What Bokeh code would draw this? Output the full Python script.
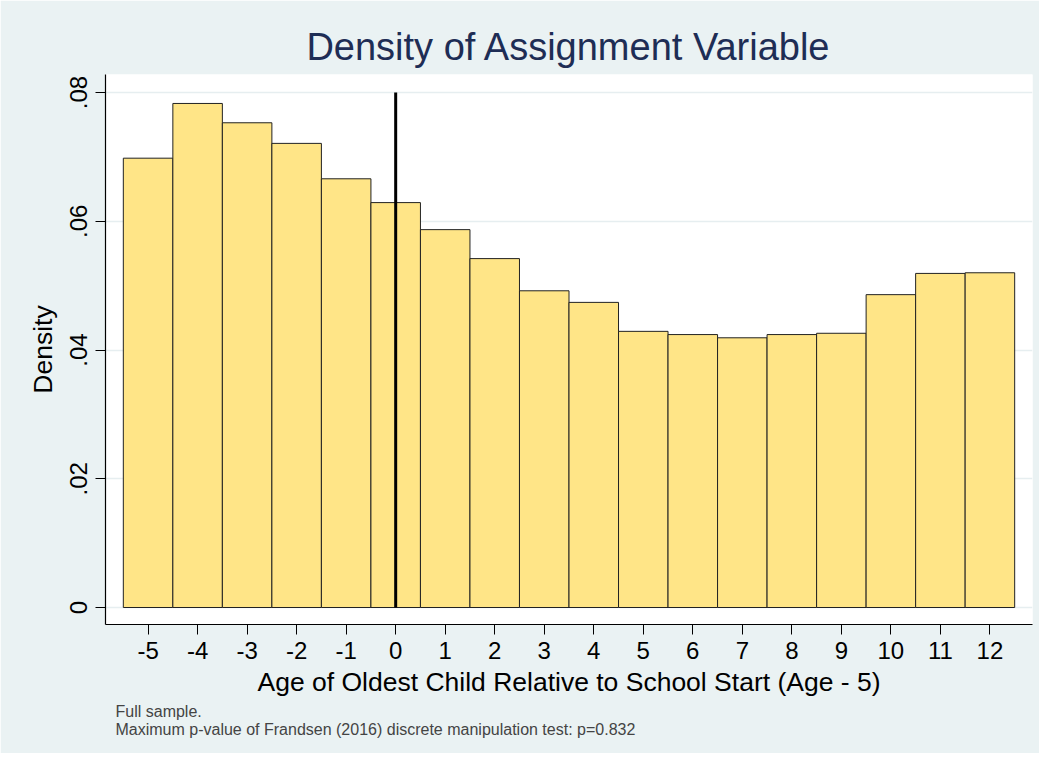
from bokeh.plotting import figure
from bokeh.models import FixedTicker, Title, Range1d
from bokeh.embed import file_html
from bokeh.resources import INLINE

ages = [-5, -4, -3, -2, -1, 0, 1, 2, 3, 4, 5, 6, 7, 8, 9, 10, 11, 12]
density = [0.0698, 0.0783, 0.0753, 0.0721, 0.0666, 0.0629, 0.0587, 0.0542, 0.0492,
           0.0474, 0.0429, 0.0424, 0.0419, 0.0424, 0.0426, 0.0486, 0.0519, 0.0520]
x_tick_labels = ["-5", "-4", "-3", "-2", "-1", "0", "1", "2", "3", "4", "5", "6",
                 "7", "8", "9", "10", "11", "12"]
y_ticks = [0, 0.02, 0.04, 0.06, 0.08]
y_tick_labels = ["0", ".02", ".04", ".06", ".08"]
cutoff_x = [0]
cutoff_top = [0.08]

FONT = "Liberation Sans"
BG = "#EAF2F3"

p = figure(width=1039, height=753, output_backend="svg", toolbar_location=None,
           x_range=Range1d(-5.86, 12.86), y_range=Range1d(-0.00264, 0.0828),
           min_border_left=105, min_border_right=7, min_border_top=74, min_border_bottom=129)
p.background_fill_color = "white"
p.border_fill_color = BG
p.outline_line_color = None

p.title.text = "Density of Assignment Variable"
p.title.align = "center"
p.title.text_font = FONT
p.title.text_font_size = "38px"
p.title.text_font_style = "normal"
p.title.text_color = "#1E2D55"
p.title.standoff = 13

p.vbar(x=ages, top=density, bottom=0, width=1.0, fill_color="#FFE587",
       line_color="#222222", line_width=1)
p.segment(x0=cutoff_x, y0=[0], x1=cutoff_x, y1=cutoff_top, line_color="black", line_width=3)

# axes
p.xaxis.ticker = FixedTicker(ticks=ages)
p.xaxis.major_label_overrides = {t: l for t, l in zip(ages, x_tick_labels)}
p.yaxis.ticker = FixedTicker(ticks=y_ticks)
p.yaxis.major_label_overrides = {t: l for t, l in zip(y_ticks, y_tick_labels)}
p.yaxis.major_label_orientation = "vertical"
for ax in (p.xaxis[0], p.yaxis[0]):
    ax.major_label_text_font = FONT
    ax.major_label_text_font_size = "24px"
    ax.major_label_text_color = "black"
    ax.axis_label_text_font = FONT
    ax.axis_label_text_font_size = "26.5px"
    ax.axis_label_text_font_style = "normal"
    ax.axis_label_text_color = "black"
    ax.major_tick_out = 10
    ax.major_tick_in = 0
    ax.minor_tick_out = 0
    ax.minor_tick_in = 0
    ax.axis_line_color = "black"
    ax.major_tick_line_color = "black"
    ax.axis_line_width = 1.2
p.xaxis.axis_label = "Age of Oldest Child Relative to School Start (Age - 5)"
p.yaxis.axis_label = "Density"
p.xaxis.major_label_standoff = 7
p.xaxis.axis_label_standoff = 5
p.yaxis.major_label_standoff = 8
p.yaxis.axis_label_standoff = 10

p.xgrid.grid_line_color = None
p.ygrid.ticker = FixedTicker(ticks=y_ticks)
p.ygrid.grid_line_color = "#E6EEF0"
p.ygrid.grid_line_width = 1.5

notes = ["Full sample.",
         "Maximum p-value of Frandsen (2016) discrete manipulation test: p=0.832"]
p.add_layout(Title(text="\n".join(notes), align="left", offset=10, text_font=FONT,
                   text_font_size="16px", text_font_style="normal", standoff=3,
                   text_line_height=1.05), "below")

open("out.html", "w").write(file_html(p, INLINE))
